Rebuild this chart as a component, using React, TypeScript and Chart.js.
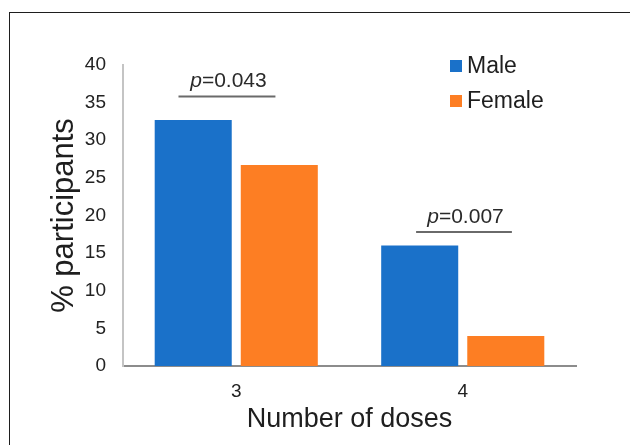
import React, { useEffect, useRef } from "react";
import { Chart, registerables } from "chart.js";

Chart.register(...registerables);

// ---- data ----
const categories = ["3", "4"];
const seriesNames = ["Male", "Female"];
const maleValues = [32.7, 16.0];
const femaleValues = [26.7, 4.0];
const yMin = 0;
const yMax = 40;
const yStep = 5;
const pLabels = ["0.043", "0.007"];
const pLevels = [35.8, 17.8];
const pSpanFrom = [-0.255, 0.794];
const pSpanTo = [0.173, 1.217];

const COLORS = ["#1a71c9", "#fd7e23"];
const FONT = "'Liberation Sans', Arial, Helvetica, sans-serif";

const pValuePlugin = {
  id: "pvalues",
  afterDatasetsDraw(chart: any) {
    const { ctx, scales } = chart;
    const xs = scales.x;
    const ys = scales.y;
    ctx.save();
    pLabels.forEach((lab, i) => {
      const x0 = xs.getPixelForValue(pSpanFrom[i]);
      const x1 = xs.getPixelForValue(pSpanTo[i]);
      const yl = ys.getPixelForValue(pLevels[i]);
      ctx.strokeStyle = "#6a6a6a";
      ctx.lineWidth = 2;
      ctx.beginPath();
      ctx.moveTo(x0, yl);
      ctx.lineTo(x1, yl);
      ctx.stroke();
      const fs = 21;
      ctx.textBaseline = "middle";
      ctx.textAlign = "left";
      ctx.fillStyle = "#2a2a2a";
      ctx.font = `italic ${fs}px ${FONT}`;
      const wp = ctx.measureText("p").width;
      ctx.font = `${fs}px ${FONT}`;
      const rest = "=" + lab;
      const wr = ctx.measureText(rest).width;
      const cx = (x0 + x1) / 2 + 1.5;
      const ty = yl - 15;
      const sx = cx - (wp + wr) / 2;
      ctx.font = `italic ${fs}px ${FONT}`;
      ctx.fillText("p", sx, ty);
      ctx.font = `${fs}px ${FONT}`;
      ctx.fillText(rest, sx + wp, ty);
    });
    ctx.restore();
  },
};

const legendPlugin = {
  id: "customLegend",
  afterDraw(chart: any) {
    const { ctx, chartArea } = chart;
    ctx.save();
    const bx = chartArea.right - 126;
    const rowY = [chartArea.top + 1, chartArea.top + 36];
    chart.data.datasets.forEach((ds: any, i: number) => {
      const cy = rowY[i];
      ctx.fillStyle = ds.backgroundColor;
      ctx.fillRect(bx, cy - 6, 12, 12);
      ctx.fillStyle = "#1e1e1e";
      ctx.font = `23px ${FONT}`;
      ctx.textBaseline = "middle";
      ctx.textAlign = "left";
      ctx.fillText(ds.label, bx + 17, cy + 1);
    });
    ctx.restore();
  },
};

function BarChart() {
  const ref = useRef<HTMLCanvasElement | null>(null);
  useEffect(() => {
    if (!ref.current) return;
    const chart = new Chart(ref.current, {
      type: "bar",
      data: {
        labels: categories,
        datasets: [
          {
            label: seriesNames[0],
            data: maleValues,
            backgroundColor: COLORS[0],
            borderWidth: 0,
          },
          {
            label: seriesNames[1],
            data: femaleValues,
            backgroundColor: COLORS[1],
            borderWidth: 0,
          },
        ],
      },
      options: {
        animation: false,
        responsive: true,
        maintainAspectRatio: false,
        devicePixelRatio: 1,
        layout: { padding: { top: 65, right: 54, bottom: 0, left: 0 } },
        datasets: {
          bar: { categoryPercentage: 0.76, barPercentage: 0.895 },
        },
        plugins: {
          legend: { display: false },
          tooltip: { enabled: false },
        },
        scales: {
          x: {
            grid: { display: false, drawTicks: false },
            border: { display: true, color: "#8c8c8c", width: 2 },
            ticks: {
              color: "#222",
              font: { family: FONT, size: 19 },
              padding: 14,
            },
            title: {
              display: true,
              text: "Number of doses",
              color: "#1e1e1e",
              font: { family: FONT, size: 27 },
              padding: { top: 0, bottom: 9 },
            },
            afterFit(scale: any) {
              scale.height = 79;
            },
          },
          y: {
            min: yMin,
            max: yMax,
            grid: { display: false, drawTicks: false },
            border: { display: true, color: "#c4c4c4", width: 2 },
            ticks: {
              stepSize: yStep,
              color: "#222",
              font: { family: FONT, size: 19 },
              padding: 17,
            },
            title: {
              display: true,
              text: "% participants",
              color: "#1e1e1e",
              font: { family: FONT, size: 31 },
              padding: { top: 46, bottom: 0 },
            },
            afterFit(scale: any) {
              scale.width = 123;
            },
          },
        },
      },
      plugins: [pValuePlugin, legendPlugin],
    });
    return () => chart.destroy();
  }, []);
  return <canvas ref={ref} />;
}

export default function App() {
  return (
    <div
      style={{
        position: "fixed",
        left: 0,
        top: 0,
        width: 630,
        height: 445,
        background: "#fff",
        overflow: "hidden",
      }}
    >
      <div style={{ position: "absolute", left: 0, top: 0, width: 630, height: 445 }}>
        <BarChart />
      </div>
      <div
        style={{
          position: "absolute",
          left: 9,
          top: 12,
          width: 640,
          height: 450,
          borderTop: "1.5px solid #1e1e1e",
          borderLeft: "1.5px solid #1e1e1e",
          pointerEvents: "none",
        }}
      />
    </div>
  );
}
